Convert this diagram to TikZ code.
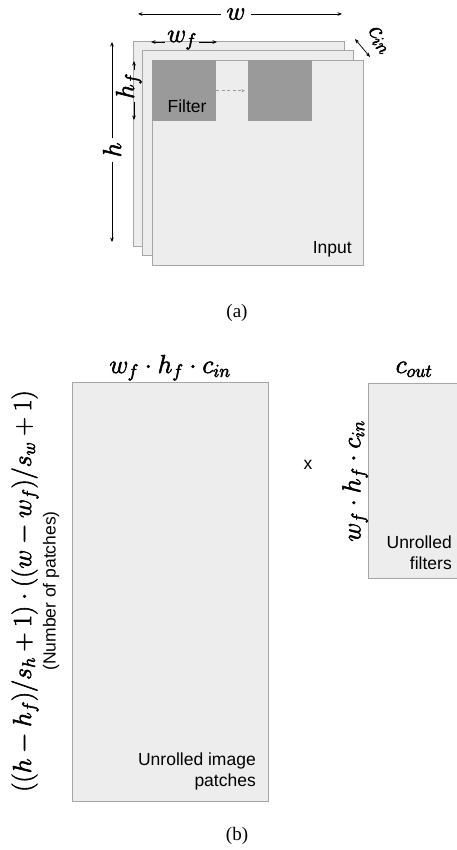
\RequirePackage{fix-cm}
\documentclass[tikz,border=0pt]{standalone}
\usepackage{fontspec}
\setmainfont{Liberation Serif}
\setsansfont{Liberation Sans}
\usetikzlibrary{arrows.meta}

\definecolor{sheetfill}{HTML}{EDEDED}
\definecolor{sheetline}{HTML}{A6A6A6}
\definecolor{patchfill}{HTML}{9A9A9A}
\definecolor{slidegray}{HTML}{9C9C9C}

\newcommand{\mathsz}{\fontsize{26}{31}\selectfont}
\newcommand{\sanssz}{\sffamily\fontsize{17.5}{20.5}\selectfont}
\newcommand{\captsz}{\rmfamily\fontsize{19}{22}\selectfont}
% slightly heavier glyphs: fill and stroke the outlines
\newcommand{\heavy}[1]{\special{pdf:literal direct 2 Tr 0.55 w}#1\special{pdf:literal direct 0 Tr}}

\begin{document}
\begin{tikzpicture}[x=1pt,y=-1pt,
  >={Stealth[length=4.5pt,width=3.6pt]},
  sheet/.style={draw=sheetline, fill=sheetfill, line width=0.9pt},
  patch/.style={fill=patchfill, draw=none, inner sep=0pt,
    minimum width=64pt, minimum height=61pt, anchor=north west},
  matbox/.style={draw=sheetline, fill=sheetfill, line width=0.9pt,
    inner sep=0pt, anchor=north west},
  dim/.style={draw=black, line width=0.75pt},
  mathlab/.style={font=\mathsz, inner sep=2.5pt},
  sanslab/.style={font=\sanssz, inner sep=0pt},
  capt/.style={font=\captsz, inner sep=0pt}]
\useasboundingbox (0,0) rectangle (457,850);

% ---------- (a) input volume with a sliding filter ----------
\draw[sheet] (133,41) rectangle (344,246);
\draw[sheet] (142.5,50.5) rectangle (353.5,255.5);
\draw[sheet] (152,60) rectangle (363,265);

\node[patch] (filter) at (152,60) {};
\node[patch] (slide) at (248,60) {};
\draw[slidegray, line width=0.8pt, dash pattern=on 3pt off 2.5pt,
  -{Stealth[length=3.5pt,width=3pt]}, shorten >=3pt]
  (filter.east) -- (slide.west);

\node[sanslab, anchor=base] at (187,113) {Filter};
\node[sanslab, anchor=base east] at (352,253) {Input};

% width of the input
\coordinate (wL) at (138,14);
\coordinate (wR) at (342,14);
\node[mathlab, inner sep=5pt] (wlab) at (236,14) {\heavy{$w$}};
\draw[dim, <-] (wL) -- (wlab.west);
\draw[dim, ->] (wlab.east) -- (wR);

% width of the filter
\coordinate (wfL) at (151,42);
\coordinate (wfR) at (217,42);
\node[mathlab, anchor=base] (wflab) at (182,42) {\heavy{$w_f$}};
\draw[dim, <-] (wfL) -- (wflab.base west);
\draw[dim, ->] (wflab.base east) -- (wfR);

% height of the input
\coordinate (hT) at (112,42);
\coordinate (hB) at (112,242);
\node[mathlab, rotate=90, inner sep=4pt] (hlab) at (112,150) {\heavy{$h$}};
\draw[dim, <-] (hT) -- (hlab.east);
\draw[dim, ->] (hlab.west) -- (hB);

% height of the filter
\coordinate (hfT) at (134,61);
\coordinate (hfB) at (134,120);
\node[mathlab, rotate=90, anchor=base] (hflab) at (134,86) {\heavy{$h_f$}};
\draw[dim, <-] (hfT) -- (hflab.base east);
\draw[dim, ->] (hflab.base west) -- (hfB);

% depth (channels)
\coordinate (cA) at (355,39);
\coordinate (cB) at (370,57);
\draw[dim, <->] (cA) -- (cB);
\node[mathlab, rotate=-52, inner sep=0pt] (cinlab) at (379,40) {\heavy{$c_{in}$}};

\node[capt] (capa) at (237,313) {(a)};

% ---------- (b) matrix product of unrolled patches and filters ----------
\node[matbox, minimum width=196pt, minimum height=419pt] (patches) at (72,382) {};
\node[matbox, minimum width=90pt, minimum height=195pt] (filters) at (368,383) {};

\node[mathlab, anchor=base] (colsP) at (170,373) {\heavy{$w_f\cdot h_f\cdot c_{in}$}};
\node[mathlab, anchor=base] (colsF) at (414,373) {\heavy{$c_{out}$}};
\node[mathlab, rotate=90] (rowsF) at (355,481) {\heavy{$w_f\cdot h_f\cdot c_{in}$}};
\node[mathlab, rotate=90] (rowsP) at (25,591)
  {\heavy{$((h-h_f)/s_h+1)\cdot((w-w_f)/s_w+1)$}};
\node[sanslab, rotate=90] (rowsNote) at (51,591) {(Number of patches)};

\node[sanslab] (times) at (308,465) {x};

\node[sanslab, align=right, anchor=north east] (patchText) at (256,753)
  {Unrolled image\\patches};
\node[sanslab, align=right, anchor=north east] (filterText) at (452,536)
  {Unrolled\\filters};

\node[capt] (capb) at (237,836) {(b)};
\end{tikzpicture}
\end{document}
